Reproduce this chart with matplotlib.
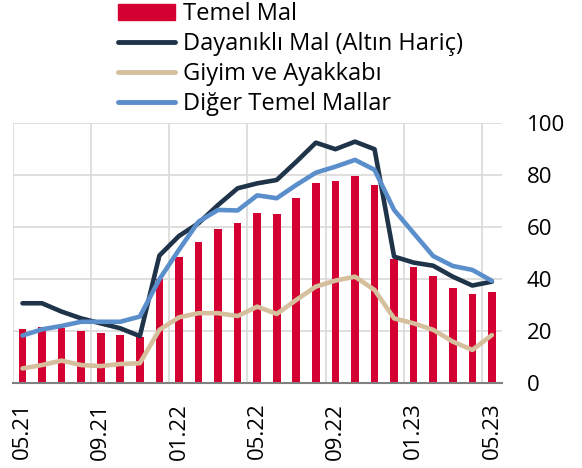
import numpy as np
import matplotlib.pyplot as plt
from matplotlib.patches import Patch
from matplotlib.lines import Line2D

plt.rcParams['font.family'] = ['Open Sans', 'DejaVu Sans']

months = ['05.21', '06.21', '07.21', '08.21', '09.21', '10.21', '11.21', '12.21',
          '01.22', '02.22', '03.22', '04.22', '05.22', '06.22', '07.22', '08.22',
          '09.22', '10.22', '11.22', '12.22', '01.23', '02.23', '03.23', '04.23', '05.23']

temel_mal = [20.8, 21.7, 21.1, 20.2, 19.4, 18.4, 17.9, 39.9, 48.5, 54.2, 59.3, 61.5, 65.3,
             64.8, 71.0, 77.0, 77.5, 79.7, 76.1, 47.7, 44.8, 41.2, 36.4, 34.1, 35.0]
dayanikli = [30.7, 30.7, 27.5, 24.9, 23.0, 21.1, 18.1, 49.0, 56.5, 61.4, 68.4, 74.8, 76.7,
             78.0, 85.0, 92.3, 89.8, 92.7, 89.8, 48.6, 46.3, 45.1, 40.9, 37.5, 39.0]
giyim = [5.7, 7.0, 8.7, 7.0, 6.6, 7.4, 7.7, 20.5, 25.3, 26.9, 26.9, 25.8, 29.4,
         26.6, 32.0, 37.1, 39.4, 40.9, 35.8, 24.9, 23.0, 20.5, 16.0, 12.8, 18.5]
diger = [18.3, 20.7, 22.0, 23.6, 23.6, 23.6, 25.6, 39.9, 51.2, 62.0, 66.5, 66.3, 72.1,
         71.0, 76.1, 80.8, 83.1, 85.7, 81.9, 66.5, 57.6, 48.8, 45.0, 43.5, 39.3]

red = '#d50032'
navy = '#1f3349'
tan = '#d6bf9c'
blue = '#5b8fcb'

x = np.arange(len(months))

fig = plt.figure(figsize=(5.82, 4.68), dpi=100)
ax = fig.add_axes([0.0218, 0.181, 0.8402, 0.557])

ax.bar(x, temel_mal, width=0.39, color=red, zorder=2)
ax.plot(x, dayanikli, color=navy, lw=3.3, solid_capstyle='round', solid_joinstyle='round', zorder=3)
ax.plot(x, giyim, color=tan, lw=3.3, solid_capstyle='round', solid_joinstyle='round', zorder=3)
ax.plot(x, diger, color=blue, lw=3.3, solid_capstyle='round', solid_joinstyle='round', zorder=4)

ax.set_xlim(-0.5, 24.5)
ax.set_ylim(0, 100)
ax.yaxis.tick_right()
ax.set_yticks([0, 20, 40, 60, 80, 100])
ax.tick_params(axis='y', length=0, pad=18, labelsize=16)

# label every 4th month, gridlines between the months
ax.set_xticks(x[::4])
ax.set_xticklabels(months[::4], rotation=90, fontsize=16)
ax.set_xticks(np.arange(-0.5, 24, 4), minor=True)
ax.tick_params(axis='x', which='both', length=0, pad=14)

ax.grid(axis='y', color='#d9d9d9', lw=1.2, zorder=0)
ax.grid(axis='x', which='minor', color='#d9d9d9', lw=1.2, zorder=0)
ax.grid(axis='x', which='major', visible=False)

for s in ['left', 'right', 'top']:
    ax.spines[s].set_visible(False)
ax.spines['bottom'].set_color('#808080')
ax.spines['bottom'].set_linewidth(1.5)

handles = [Patch(color=red),
           Line2D([], [], color=navy, lw=3.5, solid_capstyle='round'),
           Line2D([], [], color=tan, lw=3.5, solid_capstyle='round'),
           Line2D([], [], color=blue, lw=3.5, solid_capstyle='round')]
labels = ['Temel Mal', 'Dayanıklı Mal (Altın Hariç)', 'Giyim ve Ayakkabı', 'Diğer Temel Mallar']
fig.legend(handles, labels, loc='upper left', bbox_to_anchor=(0.199, 1.0), frameon=False,
           fontsize=17, handlelength=2.4, handletextpad=0.33, labelspacing=0.25,
           borderaxespad=0, borderpad=0.1)

fig.savefig('out.png', dpi=100)
